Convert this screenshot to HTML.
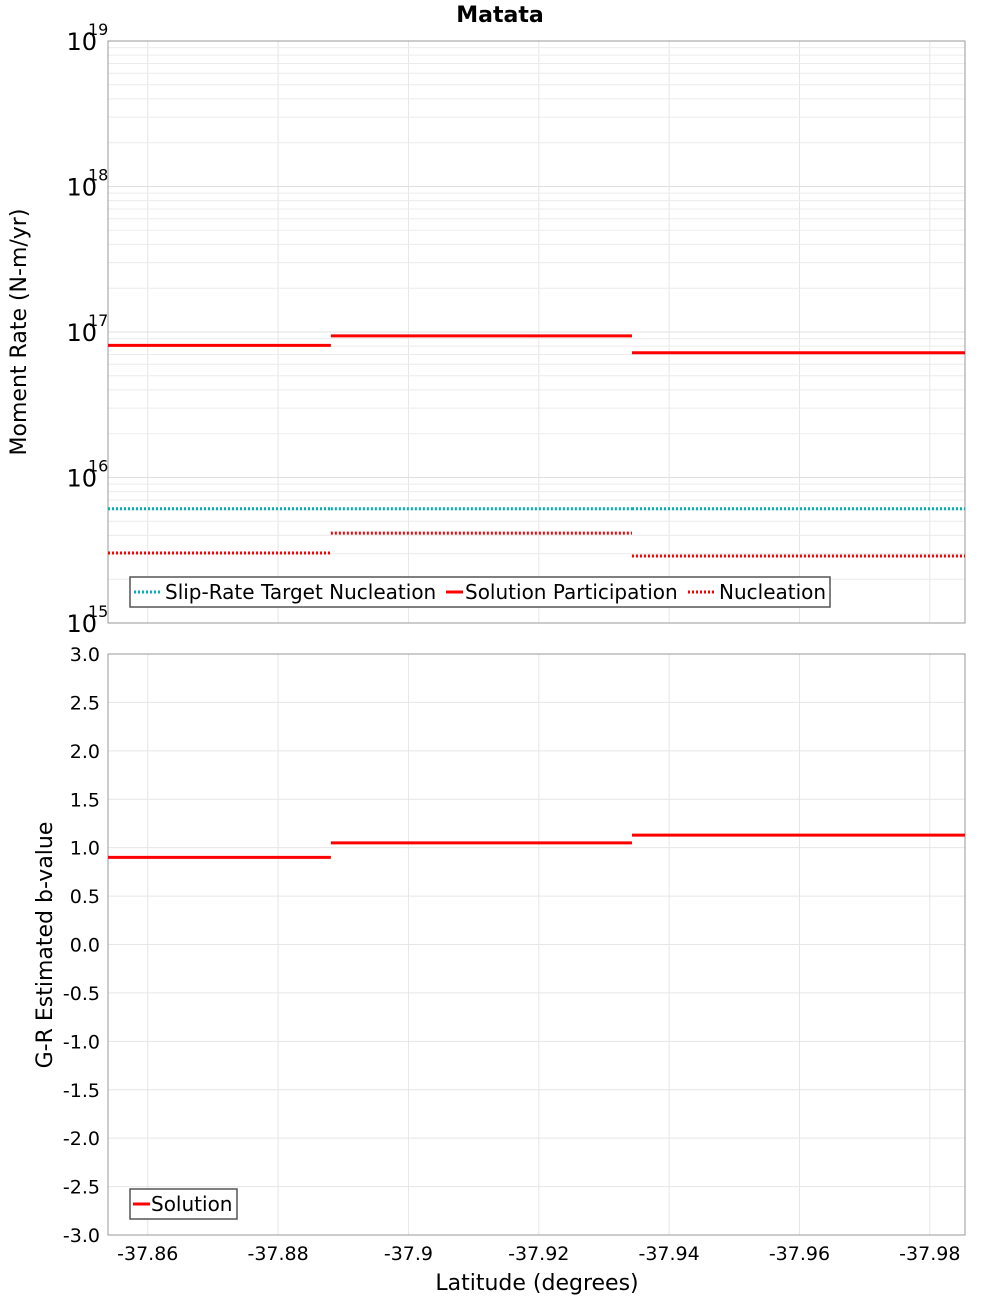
<!DOCTYPE html>
<html><head><meta charset="utf-8"><style>
body{margin:0;background:#fff;font-family:"Liberation Sans","DejaVu Sans",sans-serif}
svg text{font-family:"DejaVu Sans","Liberation Sans",sans-serif}
</style></head><body>
<svg id="chart" width="1000" height="1300" viewBox="0 0 1000 1300" xmlns="http://www.w3.org/2000/svg">
<text x="500" y="22" text-anchor="middle" font-size="22" font-weight="bold">Matata</text>
<text transform="translate(26,332) rotate(-90)" text-anchor="middle" font-size="22">Moment Rate (N-m/yr)</text>
<text transform="translate(52,945) rotate(-90)" text-anchor="middle" font-size="22">G-R Estimated b-value</text>
<text x="537" y="1290" text-anchor="middle" font-size="22">Latitude (degrees)</text>
<g id="g"></g>
</svg>
<script>
const xTicks=[-37.86,-37.88,-37.9,-37.92,-37.94,-37.96,-37.98];
const xTickLabels=["-37.86","-37.88","-37.9","-37.92","-37.94","-37.96","-37.98"];
const segStarts=[-37.8539,-37.8881,-37.9343];
const segEnds=[-37.8881,-37.9343,-37.9854];
const targetNucleation=[6.1e15,6.1e15,6.1e15];
const solutionParticipation=[8.1e16,9.4e16,7.2e16];
const nucleation=[3.03e15,4.15e15,2.89e15];
const bValues=[0.90,1.05,1.13];
const logDecades=[15,16,17,18,19];
const bTicks=[3,2.5,2,1.5,1,0.5,0,-0.5,-1,-1.5,-2,-2.5,-3];
const bTickLabels=["3.0","2.5","2.0","1.5","1.0","0.5","0.0","-0.5","-1.0","-1.5","-2.0","-2.5","-3.0"];

const NS="http://www.w3.org/2000/svg",g=document.getElementById('g');
const L=108,R=965,T1=41,B1=623,T2=654,B2=1235,X0=-37.8539,X1=-37.9854;
const xs=v=>L+(v-X0)/(X1-X0)*(R-L);
const ys1=v=>B1-(Math.log10(v)-15)/4*(B1-T1);
const ys2=v=>B2-(v+3)/6*(B2-T2);
function el(t,a,p){const e=document.createElementNS(NS,t);for(const k in a)e.setAttribute(k,a[k]);(p||g).appendChild(e);return e;}
[[T1,B1],[T2,B2]].forEach(([t,b])=>{xTicks.forEach(v=>{const l=el('line',{x1:xs(v),x2:xs(v),y1:t,y2:b,stroke:'#e6e6e6'});

});});
for(let d=15;d<19;d++)for(let m=1;m<=10;m++){const y=ys1(m*Math.pow(10,d));const l=el('line',{x1:L,x2:R,y1:y,y2:y,stroke:m==10||m==1?'#e0e0e0':'#ececec'});

}
bTicks.forEach(v=>{const l=el('line',{x1:L,x2:R,y1:ys2(v),y2:ys2(v),stroke:'#e6e6e6'});

});
[[T1,B1,'top-plot-area'],[T2,B2,'bottom-plot-area']].forEach(([t,b,n])=>{const r=el('rect',{x:L,y:t,width:R-L,height:b-t,fill:'none',stroke:'#999'});

});
logDecades.forEach(d=>{const y=ys1(Math.pow(10,d));const t=el('text',{x:97,y:y+9,'text-anchor':'end','font-size':24});t.textContent='10';


const s=el('text',{x:88,y:y-6,'font-size':16});s.textContent=d;

});
bTicks.forEach((v,i)=>{const t=el('text',{x:100,y:ys2(v)+7,'text-anchor':'end','font-size':19});t.textContent=bTickLabels[i];

});
xTicks.forEach((v,i)=>{const t=el('text',{x:xs(v),y:1260,'text-anchor':'middle','font-size':19});t.textContent=xTickLabels[i];

});
function series(arr,ys,color,dash,name){arr.forEach((v,i)=>{const a={x1:xs(segStarts[i]),x2:xs(segEnds[i]),y1:ys(v),y2:ys(v),stroke:color,'stroke-width':3};if(dash)a['stroke-dasharray']='2,2';const l=el('line',a);

});}
series(targetNucleation,ys1,'#00b0b0',true,'target-nucleation-segment');
series(nucleation,ys1,'#ff0000',true,'nucleation-segment');
series(solutionParticipation,ys1,'#ff0000',false,'participation-segment');
series(bValues,ys2,'#ff0000',false,'b-value-segment');
const lg=el('rect',{x:130,y:577,width:700,height:30,fill:'#fff',stroke:'#555','stroke-width':1.5});


[[134,27,165,'#00b0b0',true,'Slip-Rate Target Nucleation'],[446,17,465,'#ff0000',false,'Solution Participation'],[688,27,719,'#ff0000',true,'Nucleation']].forEach(([x,w,tx,c,d,txt])=>{const a={x1:x,x2:x+w,y1:592,y2:592,stroke:c,'stroke-width':3};if(d)a['stroke-dasharray']='2,2';const l=el('line',a);


const t=el('text',{x:tx,y:599,'font-size':20});t.textContent=txt;

});
const lg2=el('rect',{x:130,y:1189,width:107,height:30,fill:'#fff',stroke:'#555','stroke-width':1.5});


const l2=el('line',{x1:133,x2:150,y1:1204,y2:1204,stroke:'#ff0000','stroke-width':3});


const t2=el('text',{x:151,y:1211,'font-size':20});t2.textContent='Solution';


</script>
</body></html>
